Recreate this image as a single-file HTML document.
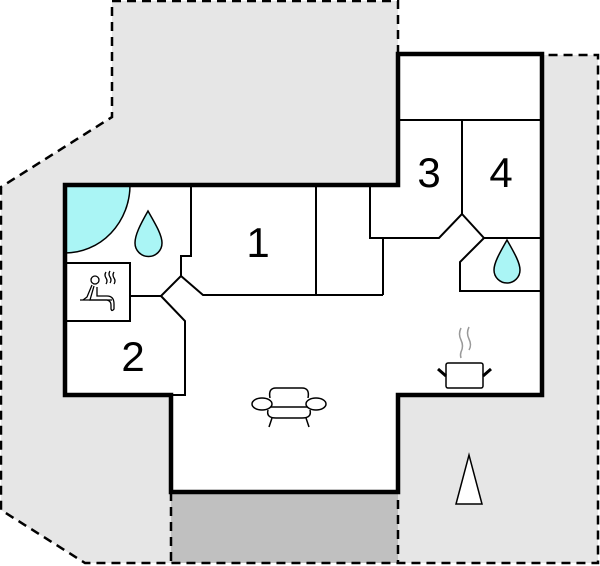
<!DOCTYPE html>
<html><head><meta charset="utf-8"><style>
html,body{margin:0;padding:0;background:#fff;width:600px;height:566px;overflow:hidden}
svg{display:block}
text{font-family:"Liberation Sans",sans-serif;font-size:42px;fill:#000}
</style></head><body>
<svg width="600" height="566" viewBox="0 0 600 566" xmlns="http://www.w3.org/2000/svg">
<!-- terrace -->
<polygon points="112,1 398,1 398,54 542,54 542,55 598,55 598,563 85,563 1,510 1,187 112,117" fill="#e6e6e6"/>
<rect x="171" y="492" width="227" height="71" fill="#c0c0c0"/>
<g fill="none" stroke="#000" stroke-width="2.5" stroke-dasharray="9,6">
<polyline points="398,54 398,1 112,1 112,117 1,187 1,510 85,563 598,563 598,55 542,55"/>
<line x1="171" y1="492" x2="171" y2="563"/>
<line x1="398" y1="395" x2="398" y2="563"/>
</g>
<!-- building -->
<polygon points="65,185 398,185 398,54 542,54 542,395 398,395 398,492 171,492 171,395 65,395" fill="#fff"/>
<path d="M65,185 A65,68 0 0 0 130,253 L65,253 Z" fill="none"/>
<path d="M65,185 L130,185 A65,68 0 0 1 65,253 Z" fill="#aaf5f5" stroke="#000" stroke-width="1.5"/>
<g fill="none" stroke="#000" stroke-width="2">
<polyline points="191,185 191,256 181,256 181,276 161,296 130,296"/>
<polyline points="181,276 203,295 383,295"/>
<polyline points="65,263 130,263 130,321 65,321"/>
<polyline points="161,296 185,321 185,395 171,395"/>
<line x1="316" y1="185" x2="316" y2="295"/>
<polyline points="370,185 370,238 439,238 462,214 462,120"/>
<line x1="383" y1="238" x2="383" y2="295"/>
<line x1="398" y1="120" x2="542" y2="120"/>
<polyline points="462,214 484,238 542,238"/>
<polyline points="484,238 460,262 460,291 542,291"/>
</g>
<polygon points="65,185 398,185 398,54 542,54 542,395 398,395 398,492 171,492 171,395 65,395" fill="none" stroke="#000" stroke-width="4.5"/>
<!-- drops -->
<path d="M148,211 C140,225 135,235 135,243 A13,13 0 0 0 162,243 C162,235 156,225 148,211 Z" fill="#aaf5f5" stroke="#000" stroke-width="1.5"/>
<path d="M507,240 C499,254 494,263 494,270 A13,13 0 0 0 520,270 C520,263 515,254 507,240 Z" fill="#aaf5f5" stroke="#000" stroke-width="1.5"/>
<!-- labels -->
<text x="258" y="257" text-anchor="middle">1</text>
<text x="133" y="371" text-anchor="middle">2</text>
<text x="429" y="187" text-anchor="middle">3</text>
<text x="501" y="187" text-anchor="middle">4</text>
<!-- sauna icon -->
<g fill="none" stroke="#000" stroke-width="1.3">
<circle cx="95" cy="280" r="4"/>
<path d="M92,285 L87,297 L83,300 M94,286 L90,300 L107,300 Q111,301 111,305 L111,309 Q112,312 114,309 L114,304 Q114,296 107,296 L97,296 L97,287"/>
<line x1="80" y1="300" x2="112" y2="300"/>
<path d="M106,272 q-2,3 0,6 q2,3 0,6 M110,271 q-2,3 0,6 q2,3 0,6 M114,272 q-2,3 0,6 q2,3 0,6"/>
</g>
<!-- pot -->
<g>
<path d="M461,328 q-3,6 0,12 q3,6 0,12 q-1,3 0,6 M469,327 q-3,6 0,12 q3,6 0,11" fill="none" stroke="#999" stroke-width="1.5"/>
<rect x="446" y="363" width="37" height="25" rx="2" fill="#fff" stroke="#000" stroke-width="1.5"/>
<line x1="438" y1="369" x2="446" y2="376" stroke="#000" stroke-width="3"/>
<line x1="491" y1="369" x2="483" y2="376" stroke="#000" stroke-width="3"/>
</g>
<!-- sofa -->
<g fill="#fff" stroke="#000" stroke-width="1.5">
<path d="M270,398 Q268,388 276,388 L302,388 Q310,388 308,398"/>
<path d="M268,410 Q266,418 276,418 L302,418 Q312,418 310,410"/>
<line x1="270" y1="407" x2="308" y2="407"/>
<line x1="272" y1="418" x2="269" y2="427"/>
<line x1="306" y1="418" x2="309" y2="427"/>
<ellipse cx="262" cy="404" rx="10" ry="6"/>
<ellipse cx="316" cy="404" rx="10" ry="6"/>
</g>
<!-- north arrow -->
<polygon points="456,504 482,504 469,455" fill="#fff" stroke="#000" stroke-width="1.5"/>
</svg>
</body></html>
